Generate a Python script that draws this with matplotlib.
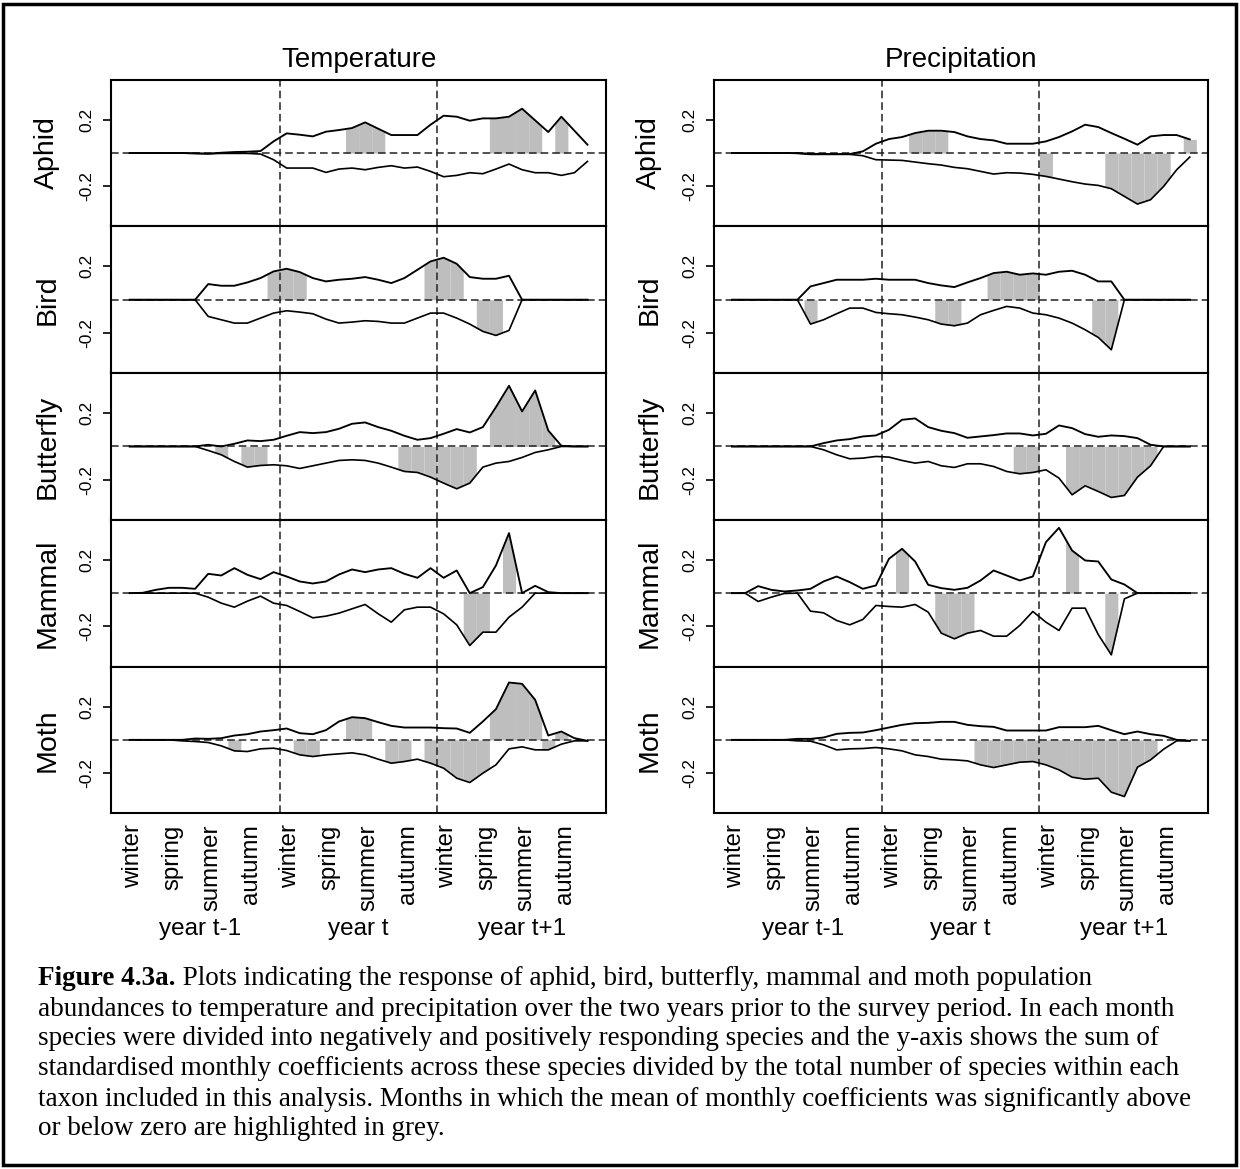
import numpy as np
import matplotlib
matplotlib.use("Agg")
import matplotlib.pyplot as plt
from matplotlib.patches import Rectangle
from matplotlib.transforms import blended_transform_factory

plt.rcParams['font.family'] = ['Liberation Sans', 'DejaVu Sans']

months = np.arange(1, 37)
taxa = ["Aphid", "Bird", "Butterfly", "Mammal", "Moth"]
columns = ["Temperature", "Precipitation"]
season_labels = ["winter", "spring", "summer", "autumn"] * 3
year_labels = ["year t-1", "year t", "year t+1"]

# ---- Temperature: summed positive / negative coefficients per month ----
aphid_temp_pos = [0, 0, 0, 0, 0, -0.002, -0.004, 0.002, 0.006, 0.008, 0.012, 0.07,
                  0.118, 0.11, 0.10, 0.128, 0.138, 0.15, 0.184, 0.146, 0.108, 0.108, 0.108, 0.17,
                  0.224, 0.218, 0.194, 0.208, 0.208, 0.218, 0.266, 0.196, 0.126, 0.218, 0.134, 0.05]
aphid_temp_neg = [0, 0, 0, 0, 0, -0.002, -0.004, -0.002, -0.002, -0.002, -0.006, -0.04,
                  -0.09, -0.09, -0.09, -0.116, -0.096, -0.09, -0.1, -0.086, -0.076, -0.09, -0.084, -0.11,
                  -0.142, -0.134, -0.118, -0.124, -0.096, -0.066, -0.1, -0.118, -0.118, -0.134, -0.118, -0.05]
aphid_temp_sig_pos = [18, 19, 20, 29, 30, 31, 32, 34]
aphid_temp_sig_neg = []

bird_temp_pos = [0, 0, 0, 0, 0, 0, 0.094, 0.084, 0.084, 0.104, 0.13, 0.17,
                 0.186, 0.166, 0.13, 0.11, 0.12, 0.126, 0.136, 0.12, 0.1, 0.13, 0.18, 0.23,
                 0.252, 0.216, 0.136, 0.126, 0.126, 0.144, 0, 0, 0, 0, 0, 0]
bird_temp_neg = [0, 0, 0, 0, 0, 0, -0.1, -0.12, -0.14, -0.14, -0.11, -0.08,
                 -0.066, -0.074, -0.084, -0.116, -0.14, -0.134, -0.126, -0.13, -0.14, -0.14, -0.11, -0.08,
                 -0.08, -0.11, -0.146, -0.19, -0.214, -0.184, 0, 0, 0, 0, 0, 0]
bird_temp_sig_pos = [12, 13, 14, 24, 25, 26]
bird_temp_sig_neg = [28, 29]

butterfly_temp_pos = [0, 0, 0, 0, 0, 0, 0.01, 0, 0.016, 0.036, 0.032, 0.04,
                      0.064, 0.086, 0.08, 0.086, 0.106, 0.136, 0.144, 0.116, 0.094, 0.064, 0.04, 0.05,
                      0.076, 0.104, 0.084, 0.116, 0.236, 0.364, 0.21, 0.336, 0.096, 0.004, 0, 0]
butterfly_temp_neg = [0, 0, 0, 0, 0, 0, -0.024, -0.05, -0.09, -0.124, -0.114, -0.11,
                      -0.116, -0.132, -0.116, -0.1, -0.084, -0.08, -0.084, -0.1, -0.124, -0.15, -0.156, -0.184,
                      -0.22, -0.254, -0.22, -0.124, -0.1, -0.09, -0.066, -0.036, -0.02, 0, 0, 0]
butterfly_temp_sig_pos = [29, 30, 31, 32, 33]
butterfly_temp_sig_neg = [8, 10, 11, 22, 23, 24, 25, 26, 27]

mammal_temp_pos = [0, 0.002, 0.02, 0.032, 0.032, 0.026, 0.116, 0.106, 0.15, 0.11, 0.084, 0.126,
                   0.1, 0.07, 0.058, 0.07, 0.112, 0.142, 0.126, 0.142, 0.15, 0.116, 0.092, 0.15,
                   0.092, 0.136, 0, 0.036, 0.166, 0.36, 0, 0.044, 0.006, 0, 0, 0]
mammal_temp_neg = [0, 0, 0, 0, 0, 0, -0.024, -0.06, -0.084, -0.048, -0.018, -0.06,
                   -0.074, -0.11, -0.148, -0.138, -0.12, -0.094, -0.068, -0.124, -0.174, -0.1, -0.084, -0.084,
                   -0.124, -0.19, -0.314, -0.234, -0.234, -0.144, -0.084, 0, 0, 0, 0, 0]
mammal_temp_sig_pos = [30]
mammal_temp_sig_neg = [27, 28]

moth_temp_pos = [0, 0, 0, 0, 0, 0.008, 0.006, 0.01, 0.026, 0.034, 0.05, 0.058,
                 0.068, 0.04, 0.034, 0.058, 0.11, 0.136, 0.13, 0.106, 0.084, 0.074, 0.074, 0.074,
                 0.07, 0.068, 0.042, 0.11, 0.184, 0.344, 0.336, 0.24, 0.026, 0.05, 0.01, -0.006]
moth_temp_neg = [0, 0, 0, 0, -0.006, -0.01, -0.016, -0.036, -0.066, -0.07, -0.054, -0.05,
                 -0.064, -0.09, -0.1, -0.09, -0.084, -0.078, -0.09, -0.116, -0.14, -0.13, -0.116, -0.14,
                 -0.17, -0.23, -0.256, -0.2, -0.15, -0.054, -0.042, -0.06, -0.06, -0.026, -0.006, -0.006]
moth_temp_sig_pos = [18, 19, 29, 30, 31, 32, 34]
moth_temp_sig_neg = [9, 14, 15, 21, 22, 24, 25, 26, 27, 28, 33]

# ---- Precipitation ----
aphid_prec_pos = [0, 0, 0, 0, 0, 0, -0.004, -0.006, -0.006, -0.006, 0.01, 0.056,
                  0.084, 0.096, 0.12, 0.134, 0.134, 0.126, 0.1, 0.084, 0.076, 0.056, 0.056, 0.056,
                  0.07, 0.096, 0.13, 0.17, 0.156, 0.12, 0.086, 0.05, 0.1, 0.108, 0.108, 0.082]
aphid_prec_neg = [0, 0, 0, 0, 0, -0.002, -0.008, -0.008, -0.008, -0.008, -0.016, -0.04,
                  -0.042, -0.044, -0.054, -0.064, -0.072, -0.086, -0.094, -0.11, -0.126, -0.118, -0.12, -0.128,
                  -0.14, -0.156, -0.172, -0.186, -0.194, -0.214, -0.26, -0.306, -0.28, -0.2, -0.1, -0.024]
aphid_prec_sig_pos = [15, 16, 17, 36]
aphid_prec_sig_neg = [25, 30, 31, 32, 33, 34]

bird_prec_pos = [0, 0, 0, 0, 0, 0, 0.08, 0.1, 0.12, 0.12, 0.12, 0.126,
                 0.12, 0.12, 0.12, 0.1, 0.086, 0.076, 0.104, 0.13, 0.16, 0.168, 0.15, 0.158,
                 0.15, 0.168, 0.174, 0.15, 0.11, 0.11, 0, 0, 0, 0, 0, 0]
bird_prec_neg = [0, 0, 0, 0, 0, 0, -0.146, -0.12, -0.084, -0.05, -0.05, -0.076,
                 -0.084, -0.09, -0.104, -0.12, -0.146, -0.156, -0.14, -0.09, -0.064, -0.04, -0.05, -0.08,
                 -0.09, -0.11, -0.14, -0.18, -0.226, -0.3, 0, 0, 0, 0, 0, 0]
bird_prec_sig_pos = [21, 22, 23, 24]
bird_prec_sig_neg = [7, 17, 18, 29, 30]

butterfly_prec_pos = [0, 0, 0, 0, 0, 0, 0, 0.02, 0.036, 0.044, 0.06, 0.066,
                      0.1, 0.16, 0.168, 0.116, 0.094, 0.08, 0.052, 0.06, 0.068, 0.078, 0.078, 0.066,
                      0.076, 0.126, 0.11, 0.074, 0.058, 0.066, 0.062, 0.05, 0.01, 0, 0, 0]
butterfly_prec_neg = [0, 0, 0, 0, 0, 0, 0, -0.02, -0.05, -0.074, -0.07, -0.06,
                      -0.064, -0.084, -0.1, -0.09, -0.116, -0.126, -0.104, -0.104, -0.12, -0.15, -0.164, -0.156,
                      -0.14, -0.19, -0.29, -0.236, -0.27, -0.306, -0.294, -0.184, -0.116, 0, 0, 0]
butterfly_prec_sig_pos = []
butterfly_prec_sig_neg = [23, 24, 27, 28, 29, 30, 31, 32, 33]

mammal_prec_pos = [0, 0, 0.042, 0.02, 0.01, 0.016, 0.026, 0.07, 0.1, 0.066, 0.026, 0.046,
                   0.206, 0.266, 0.19, 0.05, 0.03, 0.02, 0.032, 0.076, 0.136, 0.106, 0.076, 0.1,
                   0.306, 0.392, 0.256, 0.196, 0.19, 0.082, 0.052, 0, 0, 0, 0, 0]
mammal_prec_neg = [0, 0, -0.05, -0.024, -0.002, 0, -0.108, -0.118, -0.164, -0.19, -0.158, -0.074,
                   -0.08, -0.084, -0.068, -0.114, -0.24, -0.274, -0.24, -0.224, -0.258, -0.258, -0.194, -0.11,
                   -0.174, -0.224, -0.09, -0.09, -0.248, -0.37, -0.034, 0, 0, 0, 0, 0]
mammal_prec_sig_pos = [14, 27]
mammal_prec_sig_neg = [17, 18, 19, 30]

moth_prec_pos = [0, 0, 0, 0, 0, 0.006, 0.006, 0.014, 0.036, 0.042, 0.044, 0.058,
                 0.074, 0.09, 0.1, 0.102, 0.108, 0.108, 0.09, 0.082, 0.078, 0.056, 0.056, 0.056,
                 0.056, 0.076, 0.076, 0.076, 0.084, 0.058, 0.034, 0.05, 0.034, 0.024, 0, -0.006]
moth_prec_neg = [0, 0, 0, 0, 0, -0.006, -0.008, -0.03, -0.06, -0.054, -0.052, -0.046,
                 -0.054, -0.066, -0.09, -0.1, -0.116, -0.12, -0.126, -0.15, -0.166, -0.15, -0.134, -0.13,
                 -0.15, -0.18, -0.224, -0.236, -0.23, -0.314, -0.34, -0.164, -0.12, -0.056, -0.006, -0.006]
moth_prec_sig_pos = []
moth_prec_sig_neg = [20, 21, 22, 23, 24, 25, 26, 27, 28, 29, 30, 31, 32, 33]

panels = {
    "Temperature": [
        (aphid_temp_pos, aphid_temp_neg, aphid_temp_sig_pos, aphid_temp_sig_neg),
        (bird_temp_pos, bird_temp_neg, bird_temp_sig_pos, bird_temp_sig_neg),
        (butterfly_temp_pos, butterfly_temp_neg, butterfly_temp_sig_pos, butterfly_temp_sig_neg),
        (mammal_temp_pos, mammal_temp_neg, mammal_temp_sig_pos, mammal_temp_sig_neg),
        (moth_temp_pos, moth_temp_neg, moth_temp_sig_pos, moth_temp_sig_neg),
    ],
    "Precipitation": [
        (aphid_prec_pos, aphid_prec_neg, aphid_prec_sig_pos, aphid_prec_sig_neg),
        (bird_prec_pos, bird_prec_neg, bird_prec_sig_pos, bird_prec_sig_neg),
        (butterfly_prec_pos, butterfly_prec_neg, butterfly_prec_sig_pos, butterfly_prec_sig_neg),
        (mammal_prec_pos, mammal_prec_neg, mammal_prec_sig_pos, mammal_prec_sig_neg),
        (moth_prec_pos, moth_prec_neg, moth_prec_sig_pos, moth_prec_sig_neg),
    ],
}

caption_bold = "Figure 4.3a."
caption_lines = [
    " Plots indicating the response of aphid, bird, butterfly, mammal and moth population",
    "abundances to temperature and precipitation over the two years prior to the survey period. In each month",
    "species were divided into negatively and positively responding species and the y-axis shows the sum of",
    "standardised monthly coefficients across these species divided by the total number of species within each",
    "taxon included in this analysis. Months in which the mean of monthly coefficients was significantly above",
    "or below zero are highlighted in grey.",
]

W, H = 1240, 1169
fig = plt.figure(figsize=(W / 100, H / 100), dpi=100)

col_left = [111.4, 713.7]
ax_w = 494.4
top0 = 79.7
ax_h = 146.7
grey = "#bebebe"
dash = (0, (5, 2.6))


def shade(ax, vals, sig):
    for m in sig:
        xs = np.linspace(m - 0.5, m + 0.5, 41)
        ys = np.interp(xs, months, vals)
        ax.fill_between(xs, 0, ys, color=grey, lw=0, zorder=1)


for c, col in enumerate(columns):
    for r, taxon in enumerate(taxa):
        pos, neg, sig_p, sig_n = panels[col][r]
        top = top0 + r * ax_h
        ax = fig.add_axes([col_left[c] / W, 1 - (top + ax_h) / H, ax_w / W, ax_h / H])
        shade(ax, pos, sig_p)
        shade(ax, neg, sig_n)
        ax.axhline(0, color="#222222", lw=1.1, ls=dash, zorder=2)
        for b in (12.5, 24.5):
            ax.axvline(b, color="#222222", lw=1.1, ls=dash, zorder=2)
        ax.plot(months, pos, color="black", lw=1.35, zorder=3)
        ax.plot(months, neg, color="black", lw=1.2, zorder=3)
        ax.set_xlim(-0.4, 37.4)
        ax.set_ylim(-0.44, 0.44)
        ax.set_yticks([-0.2, 0.2])
        ax.set_yticklabels(["-0.2", "0.2"], rotation=90, va="center", fontsize=12.5)
        ax.tick_params(axis="y", length=6, width=1.2, pad=6)
        for s in ax.spines.values():
            s.set_linewidth(1.5)
        ax.text(-0.13, 0.5, taxon, transform=ax.transAxes, rotation=90,
                ha="center", va="center", fontsize=20.5)
        if r == 0:
            ax.set_title(col, fontsize=20, pad=9)
        if r == len(taxa) - 1:
            ax.set_xticks(np.arange(1, 37, 3) + 0.25)
            ax.set_xticklabels(season_labels, rotation=90, va="top", fontsize=17.3)
            ax.tick_params(axis="x", length=0, pad=8)
            tr = blended_transform_factory(ax.transData, fig.transFigure)
            for xpos, lab in zip([6.4, 18.45, 31.0], year_labels):
                ax.text(xpos, 1 - 929 / H, lab, transform=tr, ha="center", va="center",
                        fontsize=17.5)
        else:
            ax.set_xticks([])

# caption
serif = ["Liberation Serif", "DejaVu Serif"]
cap_x = 38 / W
baselines = [985, 1016, 1045, 1075, 1106, 1135]
renderer = fig.canvas.get_renderer()
tb = fig.text(cap_x, 1 - baselines[0] / H, caption_bold, family=serif, fontweight="bold",
              fontsize=19.5, va="baseline", ha="left")
bb = tb.get_window_extent(renderer)
fig.text(bb.x1 / W, 1 - baselines[0] / H, caption_lines[0], family=serif, fontsize=19.5,
         va="baseline", ha="left")
for yb, line in zip(baselines[1:], caption_lines[1:]):
    fig.text(cap_x, 1 - yb / H, line, family=serif, fontsize=19.5, va="baseline", ha="left")

fig.patches.append(Rectangle((3 / W, 4 / H), 1 - 7 / W, 1 - 8 / H, transform=fig.transFigure,
                             fill=False, ec="black", lw=2.5))

fig.savefig("out.png", dpi=100)
